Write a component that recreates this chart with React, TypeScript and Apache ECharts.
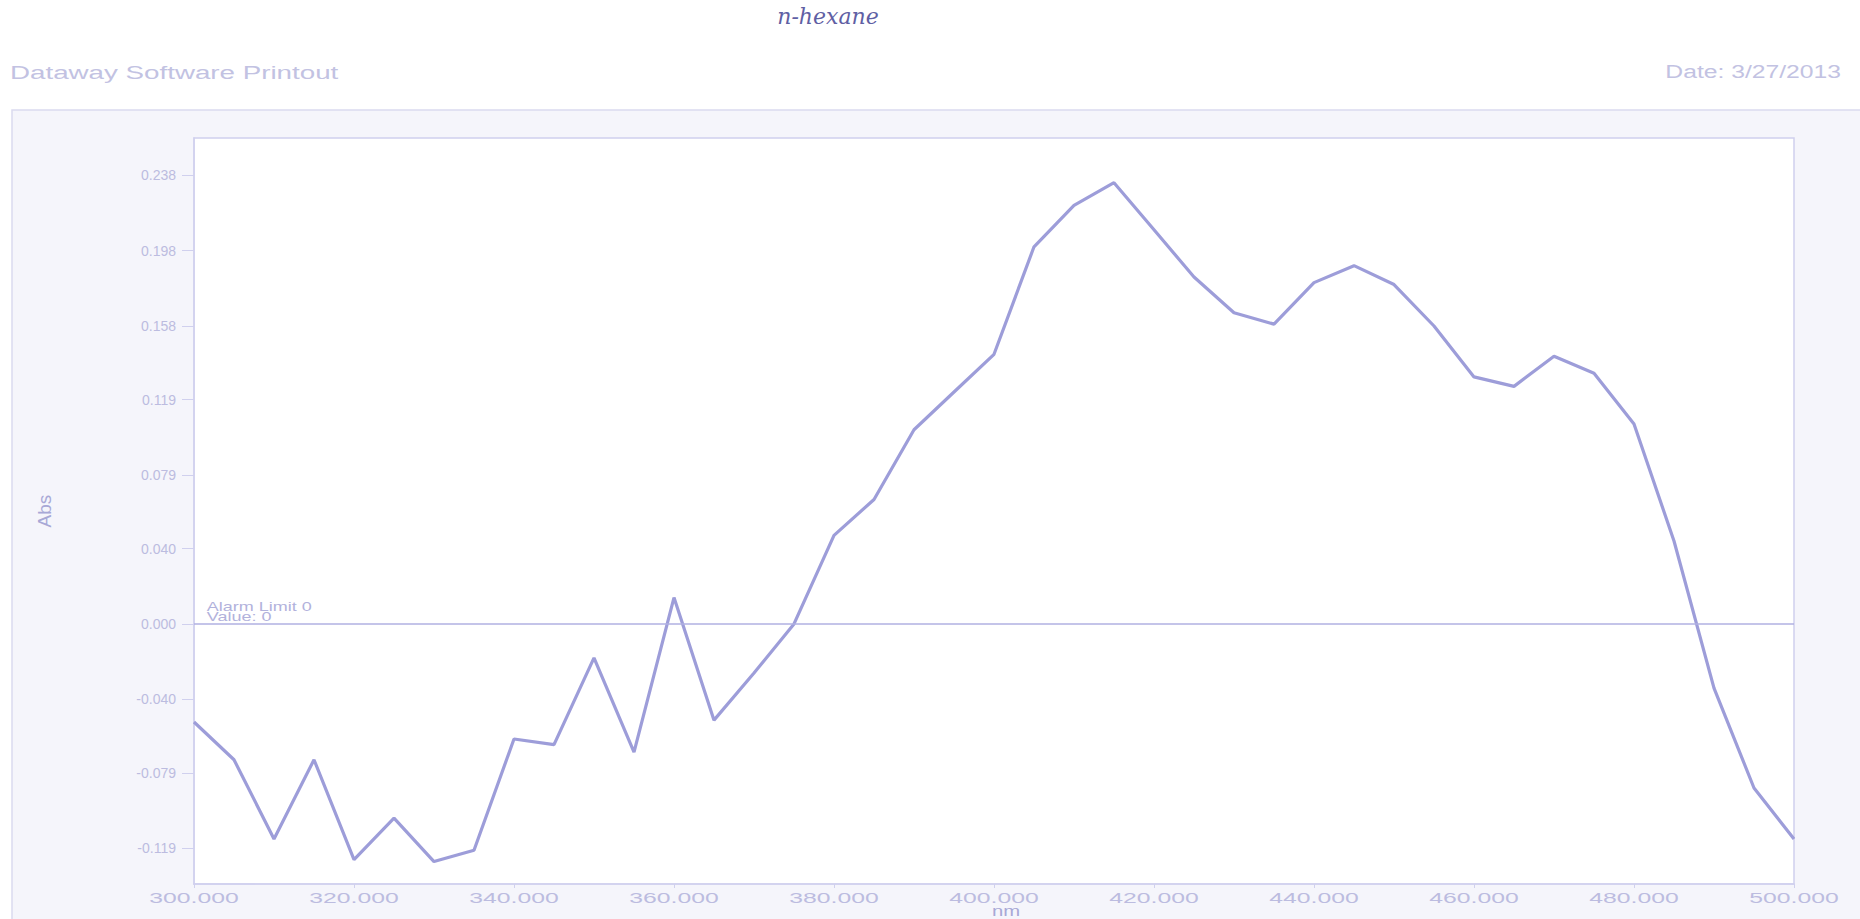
import React, { useEffect, useRef } from "react";
import * as echarts from "echarts";

// Wavelength (nm) sampled every 5 nm
const wavelengths = [
  300, 305, 310, 315, 320, 325, 330, 335, 340, 345, 350, 355, 360, 365, 370,
  375, 380, 385, 390, 395, 400, 405, 410, 415, 420, 425, 430, 435, 440, 445,
  450, 455, 460, 465, 470, 475, 480, 485, 490, 495, 500,
];

// Absorbance
const absorbance = [
  -0.052, -0.072, -0.114, -0.072, -0.125, -0.103, -0.126, -0.12, -0.061, -0.064,
  -0.018, -0.068, 0.014, -0.051, -0.026, 0.0, 0.047, 0.066, 0.103, 0.123, 0.143,
  0.2, 0.222, 0.234, 0.209, 0.184, 0.165, 0.159, 0.181, 0.19, 0.18, 0.158, 0.131,
  0.126, 0.142, 0.133, 0.106, 0.044, -0.034, -0.087, -0.114,
];

const xTickLabels = [300, 320, 340, 360, 380, 400, 420, 440, 460, 480, 500];
const yTickLabels = [-0.119, -0.079, -0.04, 0, 0.04, 0.079, 0.119, 0.158, 0.198, 0.238];
const alarmLimit = 0;
const alarmValue = 0;

const headerLeft = "Dataway Software Printout";
const headerRight = "Date: 3/27/2013";
const handNote = "n-hexane";
const xName = "nm";
const yName = "Abs";

export default function App() {
  const ref = useRef<HTMLDivElement>(null);

  useEffect(() => {
    const el = ref.current;
    if (!el) return;
    const chart = echarts.init(el, null, { renderer: "svg" });
    const textColor = "#bcbce0";
    const axisColor = "#d0d0ee";
    const font = "Liberation Sans, Arial, sans-serif";
    const data = wavelengths.map((w, i) => [w, absorbance[i]]);
    const yMin = -0.1379;
    const yMax = 0.2577;

    chart.setOption({
      animation: false,
      backgroundColor: "#ffffff",
      grid: {
        left: 194,
        right: 66,
        top: 138,
        bottom: 35,
        show: true,
        backgroundColor: "#ffffff",
        borderColor: axisColor,
        borderWidth: 1.5,
      },
      xAxis: {
        type: "value",
        min: 300,
        max: 500,
        axisLine: { show: true, onZero: false, lineStyle: { color: axisColor, width: 1.5 } },
        axisTick: { show: true, customValues: xTickLabels, length: 4, lineStyle: { color: axisColor } },
        axisLabel: { show: false, customValues: xTickLabels },
        splitLine: { show: false },
      },
      yAxis: {
        type: "value",
        min: yMin,
        max: yMax,
        name: yName,
        nameLocation: "middle",
        nameGap: 140,
        nameRotate: 90,
        nameTextStyle: { color: "#a8a8d6", fontSize: 19, fontFamily: font },
        axisLine: { show: true, lineStyle: { color: axisColor, width: 1.5 } },
        axisTick: { show: true, customValues: yTickLabels, length: 12, lineStyle: { color: axisColor } },
        axisLabel: {
          customValues: yTickLabels,
          formatter: (v: number) => v.toFixed(3),
          color: textColor,
          fontSize: 14,
          fontFamily: font,
          margin: 18,
        },
        splitLine: { show: false },
      },
      series: [
        {
          type: "line",
          data,
          symbol: "none",
          z: 3,
          lineStyle: { color: "#9d9dd9", width: 3.2 },
          markLine: {
            silent: true,
            symbol: "none",
            lineStyle: { color: "#b0b0e2", width: 1.5, type: "solid" },
            label: { show: false },
            data: [{ yAxis: alarmLimit }],
          },
        },
      ],
    });

    const px = (v: number) => chart.convertToPixel({ xAxisIndex: 0 }, v) as number;
    const py = (v: number) => chart.convertToPixel({ yAxisIndex: 0 }, v) as number;
    const axisBottom = py(yMin);

    const xLabelGraphics = xTickLabels.map((v) => ({
      type: "text",
      x: px(v),
      y: axisBottom + 14,
      scaleX: 1.65,
      silent: true,
      style: {
        text: v.toFixed(3),
        fontSize: 15,
        fontFamily: font,
        fill: textColor,
        textAlign: "center",
        textVerticalAlign: "middle",
      },
    }));

    chart.setOption({
      graphic: [
        {
          type: "rect",
          z: -10,
          silent: true,
          shape: { x: 12, y: 110, width: 1860, height: 820 },
          style: { fill: "#f5f5fb", stroke: "#dadaf0", lineWidth: 1.5 },
        },
        {
          type: "text",
          x: 10,
          y: 72,
          scaleX: 1.46,
          silent: true,
          style: {
            text: headerLeft,
            fontSize: 19,
            fontFamily: font,
            fill: "#c2c2e2",
            textAlign: "left",
            textVerticalAlign: "middle",
          },
        },
        {
          type: "text",
          x: 1841,
          y: 72,
          scaleX: 1.3,
          silent: true,
          style: {
            text: headerRight,
            fontSize: 19,
            fontFamily: font,
            fill: "#c2c2e2",
            textAlign: "right",
            textVerticalAlign: "middle",
          },
        },
        {
          type: "text",
          x: 828,
          y: 16,
          silent: true,
          style: {
            text: handNote,
            fontSize: 22,
            fontStyle: "italic",
            fontFamily: "DejaVu Serif, serif",
            fill: "#5f5fa4",
            textAlign: "center",
            textVerticalAlign: "middle",
          },
        },
        {
          type: "text",
          x: px(301.6),
          y: py(alarmLimit) - 2,
          scaleX: 1.5,
          silent: true,
          style: {
            text: `Alarm Limit ${alarmLimit}\nValue: ${alarmValue}`,
            fontSize: 12,
            lineHeight: 10,
            fontFamily: font,
            fill: "#b2b2dc",
            textAlign: "left",
            textVerticalAlign: "bottom",
          },
        },
        {
          type: "text",
          x: px(401.5),
          y: axisBottom + 27,
          scaleX: 1.45,
          silent: true,
          style: {
            text: xName,
            fontSize: 14,
            fontFamily: font,
            fill: "#a8a8d6",
            textAlign: "center",
            textVerticalAlign: "middle",
          },
        },
        ...xLabelGraphics,
      ],
    });

    return () => chart.dispose();
  }, []);

  return (
    <div
      ref={ref}
      style={{ position: "fixed", left: 0, top: 0, width: 1860, height: 919 }}
    />
  );
}
